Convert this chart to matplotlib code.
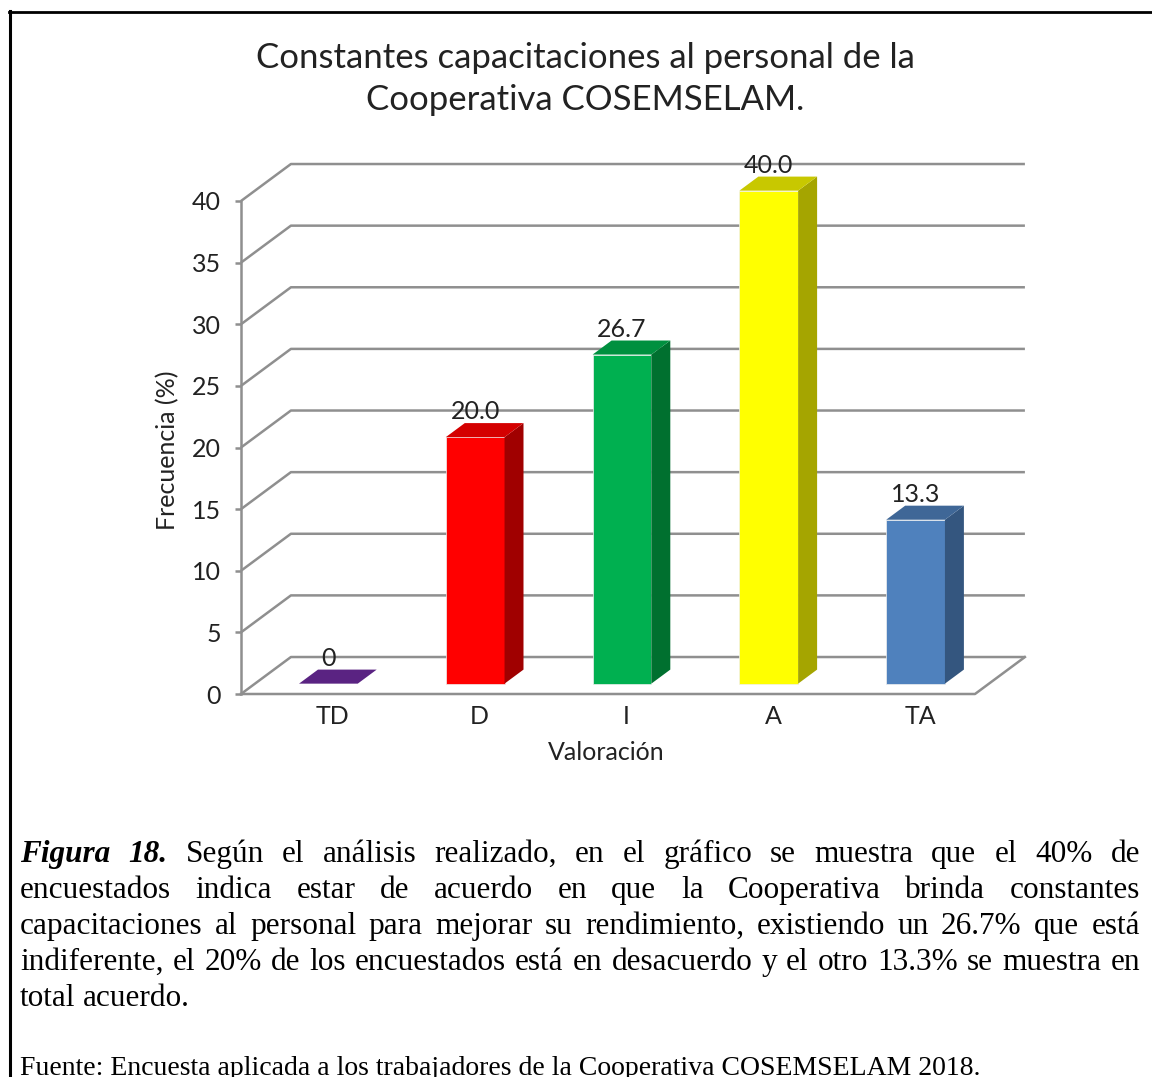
import matplotlib
matplotlib.use("Agg")
import matplotlib.pyplot as plt
from matplotlib.patches import Rectangle, Polygon
from matplotlib.lines import Line2D

CATS = ["TD", "D", "I", "A", "TA"]
VALUES = [0.0, 20.0, 26.7, 40.0, 13.3]
LABELS = ["0", "20.0", "26.7", "40.0", "13.3"]
YTICKS = [0, 5, 10, 15, 20, 25, 30, 35, 40]
FRONT = ["#5a2382", "#ff0000", "#00b050", "#ffff00", "#4f81bd"]
TOP = ["#5a2382", "#d40000", "#00903f", "#c8c800", "#3f6797"]
SIDE = ["#4a1c6b", "#a00000", "#00702f", "#a5a500", "#34567f"]

TITLE = "Constantes capacitaciones al personal de la\nCooperativa COSEMSELAM."
CAPTION = [
    "Según el análisis realizado, en el gráfico se muestra que el 40% de",
    "encuestados indica estar de acuerdo en que la Cooperativa brinda constantes",
    "capacitaciones al personal para mejorar su rendimiento, existiendo un 26.7% que está",
    "indiferente, el 20% de los encuestados está en desacuerdo y el otro 13.3% se muestra en",
    "total acuerdo.",
]
FUENTE = "Fuente: Encuesta aplicada a los trabajadores de la Cooperativa COSEMSELAM 2018."

W, H = 1152, 1077
SANS = ["Lato", "DejaVu Sans"]
SERIF = ["Liberation Serif", "DejaVu Serif"]
GRID = "#8f8f8f"
INK = "#222222"

# depth of the fake 3-D box, in data units (categories, percent)
DX, DY = 0.34, 3.0
F0, BD, BW = 0.28, 0.38, 0.40

fig = plt.figure(figsize=(W / 100, H / 100), dpi=100)
ax = fig.add_axes([241 / W, 1 - 694 / H, (975 - 241) / W, (694 - 201) / H])
ax.set_xlim(0, len(CATS))
ax.set_ylim(0, 40)
ax.patch.set_visible(False)
for s in ("top", "right", "bottom"):
    ax.spines[s].set_visible(False)
ax.spines["left"].set_color(GRID)
ax.spines["left"].set_linewidth(1.8)
ax.tick_params(axis="y", direction="out", length=4.5, width=1.8, color=GRID,
               pad=10, labelsize=18, labelcolor=INK)
ax.set_yticks(YTICKS)
for t in ax.get_yticklabels():
    t.set_family(SANS)

# back wall + floor
nx = len(CATS)
for v in YTICKS:
    ax.plot([0, DX, nx + DX], [v, v + DY, v + DY], color=GRID, lw=1.8,
            clip_on=False, zorder=1, solid_capstyle="butt")
ax.plot([0, nx, nx + DX], [0, 0, DY], color=GRID, lw=1.8, clip_on=False,
        zorder=1)

centers = [i + 0.5 + F0 * DX for i in range(nx)]
for cx, v, lab, cf, ct, cs in zip(centers, VALUES, LABELS, FRONT, TOP, SIDE):
    y0 = F0 * DY
    xl, xr = cx - BW / 2, cx + BW / 2
    ddx, ddy = BD * DX, BD * DY
    if v > 0:
        ax.add_patch(Rectangle((xl, y0), BW, v, facecolor=cf,
                               edgecolor="#f0f0f0", lw=0.5, zorder=3,
                               clip_on=False))
        ax.add_patch(Polygon([(xr, y0), (xr + ddx, y0 + ddy),
                              (xr + ddx, y0 + v + ddy), (xr, y0 + v)],
                             closed=True, facecolor=cs, edgecolor="none",
                             zorder=3, clip_on=False))
    ax.add_patch(Polygon([(xl, y0 + v), (xr, y0 + v), (xr + ddx, y0 + v + ddy),
                          (xl + ddx, y0 + v + ddy)], closed=True,
                         facecolor=ct, edgecolor="none", zorder=3,
                         clip_on=False))
    ax.annotate(lab, xy=(cx, y0 + v + ddy), xytext=(0, 0),
                textcoords="offset points", ha="center", va="bottom",
                fontsize=18, family=SANS, color=INK, zorder=4,
                annotation_clip=False)

ax.set_xticks([c + 0.03 for c in centers])
ax.set_xticklabels(CATS, family=SANS, fontsize=18, color=INK)
ax.tick_params(axis="x", length=0, pad=8)

fig.text(168 / W, 1 - 450 / H, "Frecuencia (%)", rotation=90, ha="center",
         va="center", fontsize=18, family=SANS, color=INK)
fig.text(606 / W, 1 - 752 / H, "Valoración", ha="center", va="center",
         fontsize=18, family=SANS, color=INK)
fig.text(585 / W, 1 - 79 / H, TITLE, ha="center", va="center",
         multialignment="center", fontsize=25, family=SANS, color=INK,
         linespacing=1.35)

# frame of the figure box (open at right and bottom, as cropped)
fig.add_artist(Line2D([10 / W, 10 / W], [0, 1 - 11 / H], color="black", lw=2.2))
fig.add_artist(Line2D([9 / W, 1], [1 - 11.5 / H, 1 - 11.5 / H], color="black",
                      lw=2.0))

# justified caption
renderer = fig.canvas.get_renderer()
LEFT, RIGHT = 20, 1140
baselines = [862, 898, 934, 970, 1006]
for n, (line, yb) in enumerate(zip(CAPTION, baselines)):
    words = []
    if n == 0:
        words += [("Figura", "bold"), ("18.", "bold")]
    words += [(w, "normal") for w in line.split(" ")]
    texts = []
    for w, st in words:
        t = fig.text(0, 1 - yb / H, w, fontsize=22.5, family=SERIF, color="black",
                     ha="left", va="baseline",
                     fontweight="bold" if st == "bold" else "normal",
                     fontstyle="italic" if st == "bold" else "normal")
        texts.append(t)
    widths = [t.get_window_extent(renderer).width for t in texts]
    if n < len(CAPTION) - 1:
        gap = (RIGHT - LEFT - sum(widths)) / (len(texts) - 1)
    else:
        gap = 0.25 * 22.5 * 100 / 72
    x = LEFT
    for t, wd in zip(texts, widths):
        t.set_x(x / W)
        x += wd + gap

fig.text(LEFT / W, 1 - 1075 / H, FUENTE, fontsize=20, family=SERIF,
         color="black", ha="left", va="baseline")

fig.savefig("out.png", dpi=100)
